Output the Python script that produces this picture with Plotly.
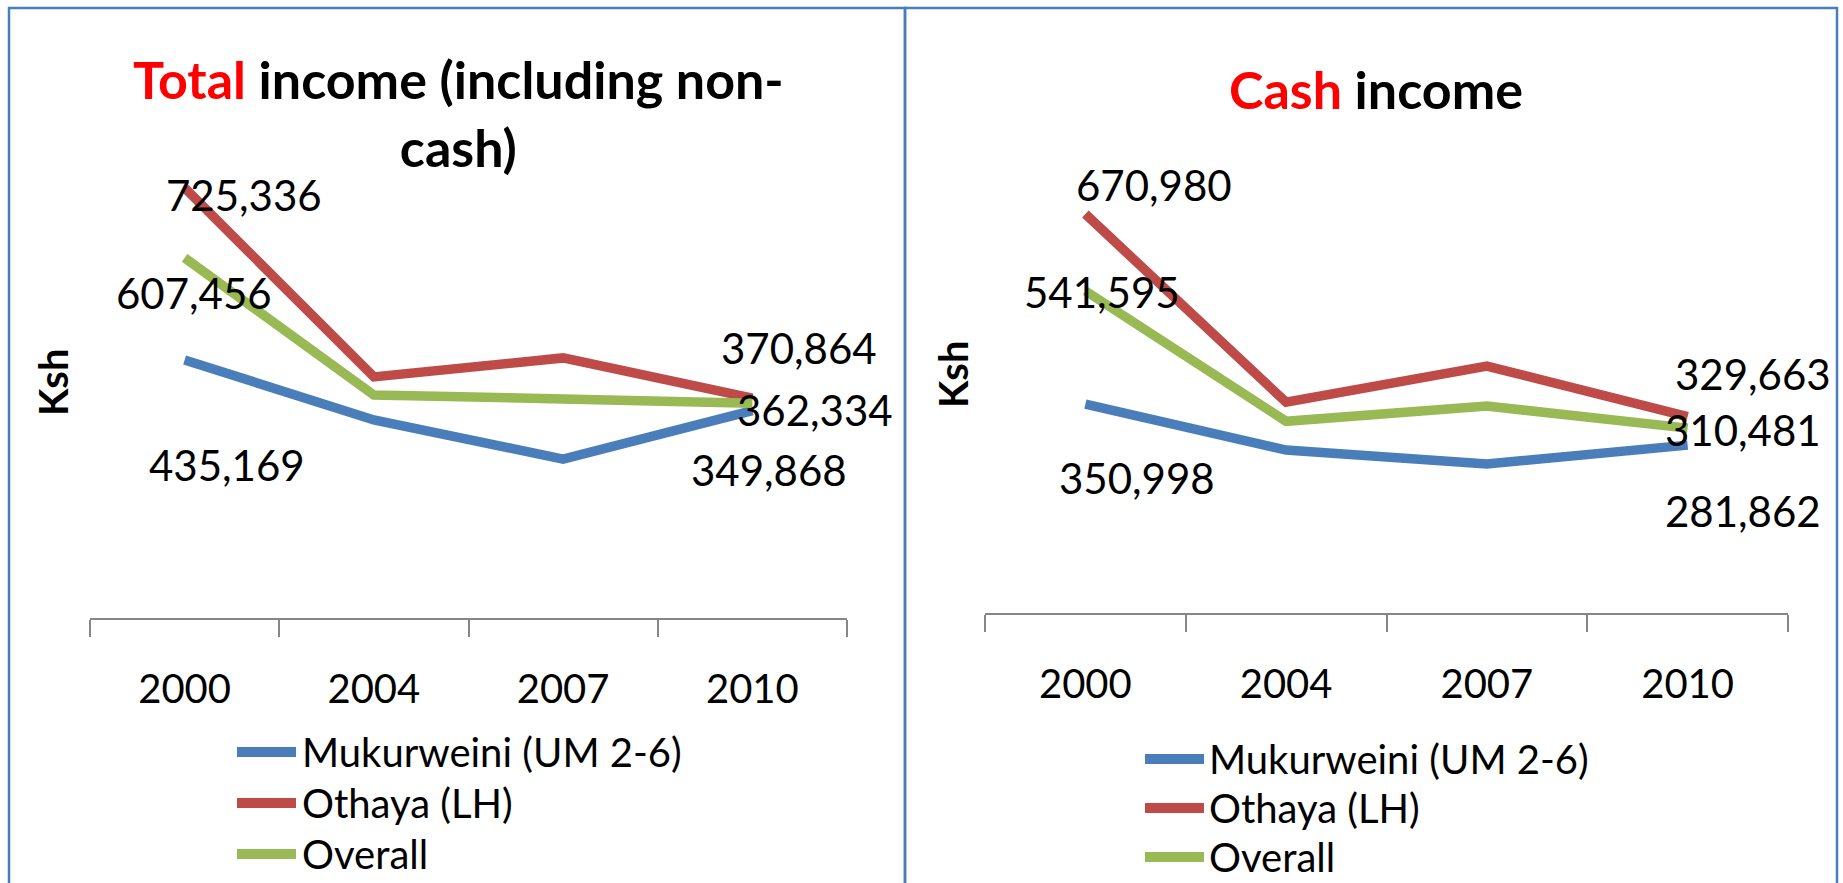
import plotly.graph_objects as go

W, H = 1843, 883

# ---------------- data ----------------
years = ["2000", "2004", "2007", "2010"]
series_names = ["Mukurweini (UM 2-6)", "Othaya (LH)", "Overall"]

total_mukurweini = [435169, 334000, 268000, 349868]
total_othaya = [725336, 406600, 438600, 370864]
total_overall = [607456, 376000, 369500, 362334]

cash_mukurweini = [350998, 273500, 250000, 281862]
cash_othaya = [670980, 354000, 415000, 329663]
cash_overall = [541595, 322000, 347600, 310481]

panel_titles = [("Total", " income (including non-", "cash)"), ("Cash", " income", None)]
y_title = "Ksh"

# ---------------- style ----------------
colors = ["#4A7EBB", "#BE4B48", "#98B954"]
FONT = "Lato"
axis_grey = "#868686"
border_blue = "#4A7EBB"


def px_x(v):
    return v / W


def px_y(v):
    return 1 - v / H


fig = go.Figure()

panels = [
    dict(data=[total_mukurweini, total_othaya, total_overall], xdom=(90, 847), ybot=618, ytop=143.6,
         xaxis="x", yaxis="y", center=458,
         # label offsets (xshift, yshift) for first / last points of each series
         offsets=[[(42, -105), (17, -59)], [(59, -7), (47, 50)], [(9, -35), (63, -7)]],
         ksh=(53, 382), legend=(237, 296, 300, [752, 803, 854])),
    dict(data=[cash_mukurweini, cash_othaya, cash_overall], xdom=(985, 1788), ybot=612.5, ytop=137.4,
         xaxis="x2", yaxis="y2", center=1376,
         offsets=[[(52, -74), (55, -66)], [(69, 29), (65, 43)], [(17, -1), (55, -2)]],
         ksh=(953, 374), legend=(1145, 1204, 1207, [759, 808, 857])),
]

annotations = []
shapes = []

for pi, p in enumerate(panels):
    for si, vals in enumerate(p["data"]):
        fig.add_trace(go.Scatter(
            x=years, y=vals, mode="lines", name=series_names[si],
            line=dict(color=colors[si], width=9.5),
            xaxis=p["xaxis"], yaxis=p["yaxis"], showlegend=False, hoverinfo="x+y+name",
        ))
        for k, idx in enumerate([0, len(vals) - 1]):
            xs, ys = p["offsets"][si][k]
            annotations.append(dict(
                x=idx, y=vals[idx], xref=p["xaxis"], yref=p["yaxis"],
                text=f"{vals[idx]:,}", showarrow=False, xshift=xs, yshift=ys,
                xanchor="center", yanchor="middle",
                font=dict(family=FONT, size=42, color="black"),
            ))
    # titles
    red, rest, line2 = panel_titles[pi]
    title_text = f"<b><span style='color:#FF0000'>{red}</span>{rest}</b>"
    title_y = 89
    if line2:
        title_text += f"<br><b>{line2}</b>"
        title_y = 113
    annotations.append(dict(
        x=px_x(p["center"]), y=px_y(title_y), xref="paper", yref="paper", showarrow=False,
        text=title_text, xanchor="center", yanchor="middle",
        font=dict(family=FONT, size=52, color="black"),
    ))
    # y title
    annotations.append(dict(
        x=px_x(p["ksh"][0]), y=px_y(p["ksh"][1]), xref="paper", yref="paper", showarrow=False,
        text=f"<b>{y_title}</b>", textangle=-90, xanchor="center", yanchor="middle",
        font=dict(family=FONT, size=40, color="black"),
    ))
    # legend (manual)
    lx0, lx1, tx, lys = p["legend"]
    for si, ly in enumerate(lys):
        shapes.append(dict(type="line", xref="paper", yref="paper",
                           x0=px_x(lx0), x1=px_x(lx1), y0=px_y(ly), y1=px_y(ly),
                           line=dict(color=colors[si], width=10)))
        annotations.append(dict(
            x=px_x(tx), y=px_y(ly), xref="paper", yref="paper", showarrow=False,
            text=series_names[si], xanchor="left", yanchor="middle",
            font=dict(family=FONT, size=40, color="black"),
        ))

# panel borders
shapes.append(dict(type="rect", xref="paper", yref="paper", x0=px_x(9), x1=px_x(905),
                   y0=px_y(900), y1=px_y(8), line=dict(color=border_blue, width=2.5)))
shapes.append(dict(type="rect", xref="paper", yref="paper", x0=px_x(905), x1=px_x(1837),
                   y0=px_y(900), y1=px_y(8), line=dict(color=border_blue, width=2.5)))

xaxis_common = dict(type="category", showgrid=False, zeroline=False, showline=True,
                    linecolor=axis_grey, linewidth=2, ticks="outside", tickson="boundaries",
                    ticklen=17, tickwidth=2, tickcolor=axis_grey, ticklabelstandoff=35,
                    tickfont=dict(family=FONT, size=40, color="black"), range=[-0.5, 3.5],
                    fixedrange=True)
yaxis_common = dict(range=[0, 800000], showgrid=False, zeroline=False, showline=False,
                    showticklabels=False, ticks="", fixedrange=True)

p0, p1 = panels
fig.update_layout(
    width=W, height=H, margin=dict(l=0, r=0, t=0, b=0),
    paper_bgcolor="white", plot_bgcolor="white",
    xaxis=dict(domain=[px_x(p0["xdom"][0]), px_x(p0["xdom"][1])], anchor="y", **xaxis_common),
    yaxis=dict(domain=[px_y(p0["ybot"]), px_y(p0["ytop"])], anchor="x", **yaxis_common),
    xaxis2=dict(domain=[px_x(p1["xdom"][0]), px_x(p1["xdom"][1])], anchor="y2", **xaxis_common),
    yaxis2=dict(domain=[px_y(p1["ybot"]), px_y(p1["ytop"])], anchor="x2", **yaxis_common),
    annotations=annotations, shapes=shapes, showlegend=False,
    font=dict(family=FONT),
)

fig.write_html("out.html", config={"displayModeBar": False},
               post_script="document.body.style.margin='0';document.body.style.overflow='hidden';")
